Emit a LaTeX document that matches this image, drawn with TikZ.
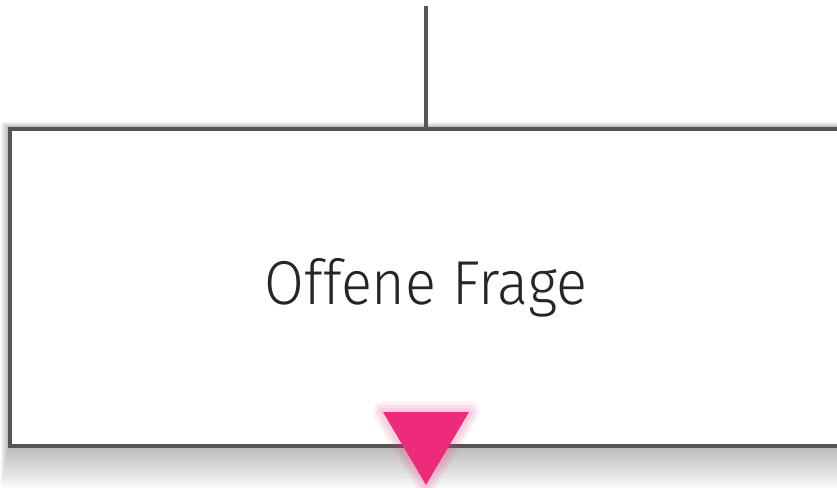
\documentclass[tikz,border=0pt]{standalone}
\usepackage{fontspec}
\newfontfamily\labelfont[FakeStretch=0.93]{Fira Sans Light}
\usepackage{tikz}
\usetikzlibrary{positioning,calc}
\definecolor{linegray}{HTML}{555555}
\definecolor{markerpink}{HTML}{EE2A7B}

\begin{document}
\begin{tikzpicture}[
        x=1pt, y=-1pt,
        box/.style={rectangle,draw=linegray,line width=4pt,fill=white,minimum width=832pt,minimum height=317pt,align=center,font=\labelfont\fontsize{62}{70}\selectfont,text=black!85},
        link/.style={draw=linegray,line width=4pt},
        shade/.style={fill=black,fill opacity=0.025},
        marker/.style={fill=markerpink},
        glow/.style={draw=markerpink,draw opacity=0.08,line join=round,shift={(2,3)}}
    ]
        \useasboundingbox (0,0) rectangle (837,487);
        \clip (0,0) rectangle (837,487);
        \path (426,287.5) coordinate (mitte);
        \foreach \i in {1,...,12}
            \fill[shade] ($(mitte)+(-418-0.6*\i,-160.5-0.4*\i)$) rectangle ($(mitte)+(418+0.6*\i,160.5+3.3*\i)$);
        \node[box] (frage) at (mitte) {Offene Frage};
        \coordinate (oben) at (426,6);

        \draw[link] (oben) -- (frage.north);

        \foreach \w in {20,14,8}
            \draw[glow,line width=\w pt] ($(frage.south)+(-43,-36)$) -- ($(frage.south)+(43,-36)$) -- ($(frage.south)+(0,37)$) -- cycle;
        \fill[marker] ($(frage.south)+(-43,-36)$) -- ($(frage.south)+(43,-36)$) -- ($(frage.south)+(0,37)$) -- cycle;
    \end{tikzpicture}
\end{document}
